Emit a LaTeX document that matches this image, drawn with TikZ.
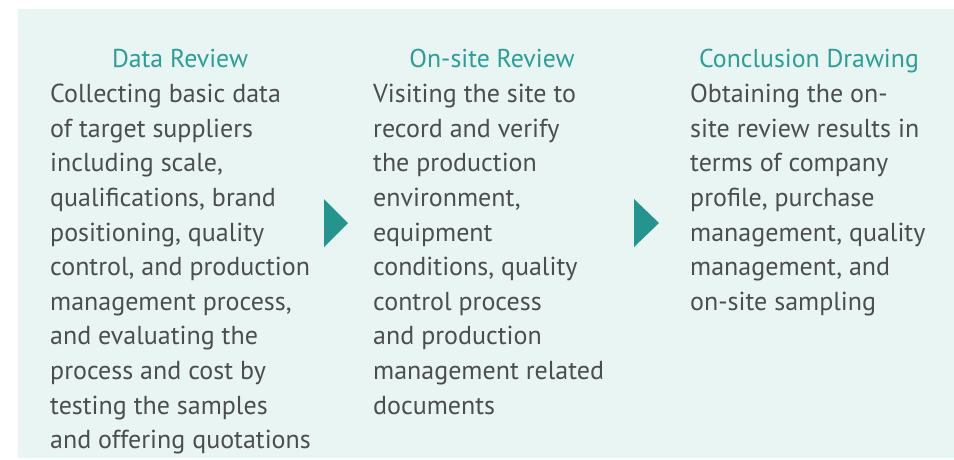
\documentclass[tikz,border=0pt]{standalone}
\usepackage{fontspec}
\setmainfont{PT Sans}
\definecolor{bgmint}{HTML}{E8F5F3}
\definecolor{teal}{HTML}{2B9E97}
\definecolor{bodygray}{HTML}{4D4D4F}
\definecolor{arrowteal}{HTML}{23958E}
\begin{document}
\begin{tikzpicture}[x=1pt,y=-1pt,
  title/.style={inner sep=0pt,anchor=base,text=teal,font=\fontsize{25.8}{30}\selectfont},
  body/.style={inner sep=0pt,anchor=north west,align=left,text=bodygray,font=\fontsize{26}{34.6}\selectfont},
  arrowtri/.style={fill=arrowteal}]
\useasboundingbox (0,0) rectangle (954,459);
\fill[white] (0,0) rectangle (954,459);
\fill[bgmint] (18,9) rectangle (954,458);
\node[title] (t1) at (180,67) {Data Review};
\node[title] (t2) at (492,67) {On-site Review};
\node[title] (t3) at (809,67) {Conclusion Drawing};
\node[body] (b1) at (50,84) {Collecting basic data\\of target suppliers\\including scale,\\qualifications, brand\\positioning, quality\\control, and production\\management process,\\and evaluating the\\process and cost by\\testing the samples\\and offering quotations};
\node[body] (b2) at (373,84) {Visiting the site to\\record and verify\\the production\\environment,\\equipment\\conditions, quality\\control process\\and production\\management related\\documents};
\node[body] (b3) at (690,84) {Obtaining the on-\\site review results in\\terms of company\\profile, purchase\\management, quality\\management, and\\on-site sampling};
\fill[arrowtri] (324,199) -- (348,223) -- (324,247) -- cycle;
\fill[arrowtri] (634,199) -- (659,223) -- (634,247) -- cycle;
\end{tikzpicture}
\end{document}
